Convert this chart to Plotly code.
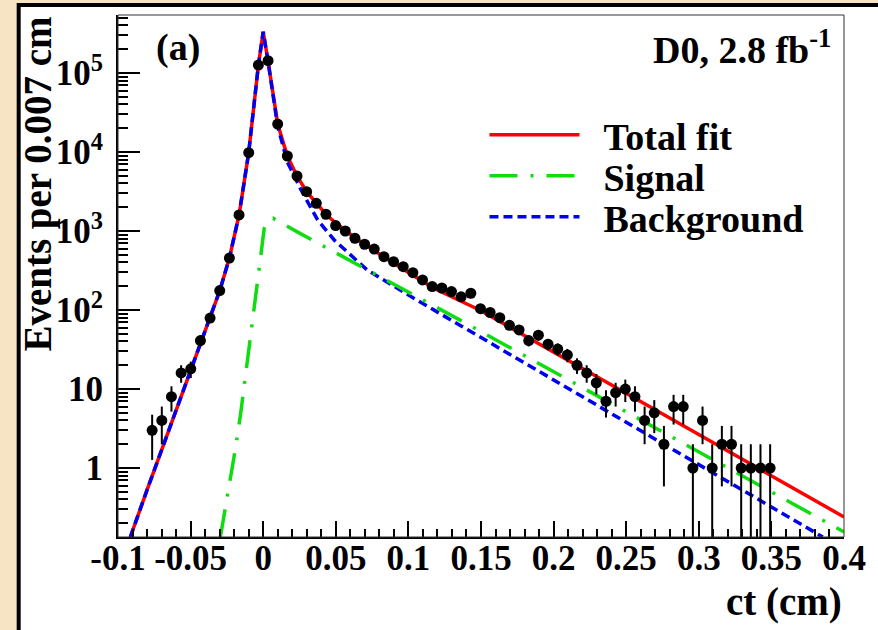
import numpy as np
import plotly.graph_objects as go

# ---------------- data ----------------
ct = [-0.07648, -0.06983, -0.06318, -0.05653, -0.04988, -0.04323, -0.03658,
      -0.02993, -0.02328, -0.01663, -0.00998, -0.00333, 0.00333, 0.00998,
      0.01663, 0.02328, 0.02993, 0.03658, 0.04323, 0.04988, 0.05653, 0.06318,
      0.06983, 0.07648, 0.08313, 0.08978, 0.09643, 0.10308, 0.10973, 0.11638,
      0.12303, 0.12968, 0.13633, 0.14298, 0.14963, 0.15628, 0.16293, 0.16958,
      0.17623, 0.18288, 0.18953, 0.19618, 0.20283, 0.20948, 0.21613, 0.22278,
      0.22943, 0.23608, 0.24273, 0.24938, 0.25603, 0.26268, 0.26933, 0.27598,
      0.28263, 0.28928, 0.29593, 0.30258, 0.30923, 0.31588, 0.32253, 0.32918,
      0.33583, 0.34248, 0.34913]
events = [3, 4, 8, 16, 18, 41, 79,
          176, 455, 1600, 9800, 126000, 143000, 22600,
          8900, 4970, 3150, 2240, 1630, 1170, 1000, 810,
          680, 590, 473, 409, 353, 297, 240, 198,
          190, 171, 147, 163, 104, 93, 80, 64,
          56, 41, 48, 37, 32, 27, 20, 16,
          12, 7, 9, 10, 8, 4, 5, 2,
          6, 6, 1, 4, 1, 2, 2, 1,
          1, 1, 1]

total_ct = [-0.0915, -0.0796, -0.0299, -0.0233, -0.0166, -0.0100, -0.0033, 0.0,
            0.0033, 0.0100, 0.0166, 0.0233, 0.0299, 0.0366, 0.0432, 0.0489,
            0.0566, 0.0635, 0.0703, 0.083, 0.1171, 0.149, 0.4]
total_val = [0.134, 0.553, 176, 455, 1600, 9800, 126000, 333000,
             143000, 22600, 8900, 4970, 3150, 2240, 1630, 1310,
             1000, 810, 676, 470, 190, 100, 0.24]

signal_ct = [-0.0295, -0.0239, -0.0189, -0.0155, -0.0098, -0.0046, 0.0007,
             0.0035, 0.0068, 0.025, 0.1353, 0.4]
signal_val = [0.134, 0.525, 1.86, 4.92, 29.6, 183, 1080,
              1380, 1450, 940, 75, 0.155]

bkg_ct = [-0.0915, -0.0796, -0.0299, -0.0233, -0.0166, -0.0100, -0.0033, 0.0,
          0.0033, 0.0100, 0.0166, 0.0261, 0.0375, 0.0489, 0.0716, 0.1057, 0.3854]
bkg_val = [0.134, 0.553, 176, 455, 1600, 9800, 126000, 332000,
           142000, 21000, 7500, 3300, 1380, 770, 321, 134, 0.134]

x_tickvals = [-0.1, -0.05, 0, 0.05, 0.1, 0.15, 0.2, 0.25, 0.3, 0.35, 0.4]
x_ticktext = ["-0.1", "-0.05", "0", "0.05", "0.1", "0.15", "0.2", "0.25", "0.3", "0.35", "0.4"]
y_tickvals = [1, 10, 100, 1000, 10000, 100000]
y_ticktext = ["1", "10", "10<sup>2</sup>", "10<sup>3</sup>", "10<sup>4</sup>", "10<sup>5</sup>"]

# ---------------- styling ----------------
FONT = "Liberation Serif, Times New Roman, serif"
W, H = 878, 630
L, R, T, B = 118, 29, 15, 93
PW, PH = W - L - R, H - T - B


def px(xp):
    return (xp - L) / PW


def py(yp):
    return (H - B - yp) / PH


fig = go.Figure()
fig.add_trace(go.Scatter(x=total_ct, y=total_val, mode="lines",
                         name="&nbsp;&nbsp;Total fit",
                         line=dict(color="#ff0000", width=3.5), legend="legend"))
fig.add_trace(go.Scatter(x=bkg_ct, y=bkg_val, mode="lines",
                         name="&nbsp;&nbsp;Background",
                         line=dict(color="#0000f0", width=3.5, dash="9px,5px"),
                         legend="legend3"))
fig.add_trace(go.Scatter(x=signal_ct, y=signal_val, mode="lines",
                         name="&nbsp;&nbsp;Signal",
                         line=dict(color="#10dd10", width=3.5, dash="28px,13px,3px,13px"),
                         legend="legend2"))
fig.add_trace(go.Scatter(x=ct, y=events, mode="markers", showlegend=False,
                         marker=dict(color="black", size=11),
                         error_y=dict(type="data", array=np.sqrt(events), visible=True,
                                      color="black", thickness=2, width=0)))

minor_y = [m * 10 ** e for e in range(-1, 6) for m in range(2, 10)]
tickfont = dict(family=FONT, size=35, color="black", weight="bold")

fig.update_xaxes(range=[-0.1, 0.4], tickmode="array", tickvals=x_tickvals,
                 ticktext=x_ticktext, ticks="inside", ticklen=16, tickwidth=2,
                 tickcolor="black", showline=True, linewidth=2, linecolor="black",
                 showgrid=False, zeroline=False, tickfont=tickfont,
                 ticklabelstandoff=-11,
                 minor=dict(tickmode="linear", tick0=0, dtick=0.01, ticks="inside",
                            ticklen=8, tickwidth=2, tickcolor="black", showgrid=False))
fig.update_yaxes(type="log", range=[-0.873, 5.734], tickmode="array",
                 tickvals=y_tickvals, ticktext=y_ticktext, ticks="inside",
                 ticklen=22, tickwidth=2, tickcolor="black", showline=True,
                 linewidth=2, linecolor="black", showgrid=False, zeroline=False,
                 tickfont=tickfont, ticklabelstandoff=6,
                 minor=dict(tickmode="array", tickvals=minor_y, ticks="inside",
                            ticklen=10, tickwidth=2, tickcolor="black", showgrid=False))

legfont = dict(family=FONT, size=38, color="black", weight="bold")
leg_common = dict(xanchor="left", yanchor="middle", font=legfont,
                  bgcolor="rgba(0,0,0,0)", borderwidth=0, itemwidth=90)

annfont = dict(family=FONT, color="black", weight="bold")
fig.update_layout(
    width=W, height=H,
    margin=dict(l=L, r=R, t=T, b=B, pad=0),
    paper_bgcolor="#f6e4c4", plot_bgcolor="white",
    showlegend=True,
    legend=dict(x=px(487), y=py(135), **leg_common),
    legend2=dict(x=px(487), y=py(176), **leg_common),
    legend3=dict(x=px(487), y=py(217), **leg_common),
    shapes=[
        dict(type="rect", xref="paper", yref="paper", layer="below",
             x0=px(18), x1=px(900), y0=py(660), y1=py(5),
             fillcolor="white", line=dict(color="black", width=4)),
        dict(type="rect", xref="paper", yref="paper", layer="above",
             x0=0, x1=1, y0=0, y1=1, line=dict(color="#333333", width=1)),
    ],
    annotations=[
        dict(text="Events per 0.007 cm", xref="paper", yref="paper",
             x=px(37), y=py(184), xanchor="center", yanchor="middle",
             textangle=-90, showarrow=False, font=dict(size=39, **annfont)),
        dict(text="ct (cm)", xref="paper", yref="paper", x=px(849), y=py(602),
             xanchor="right", yanchor="middle", showarrow=False,
             font=dict(size=39, **annfont)),
        dict(text="(a)", xref="paper", yref="paper", x=px(154), y=py(48),
             xanchor="left", yanchor="middle", showarrow=False,
             font=dict(size=38, **annfont)),
        dict(text="D0, 2.8 fb<sup>-1</sup>", xref="paper", yref="paper",
             x=px(838), y=py(47), xanchor="right", yanchor="middle",
             showarrow=False, font=dict(size=38, **annfont)),
    ],
)

fig.write_html("out.html")
